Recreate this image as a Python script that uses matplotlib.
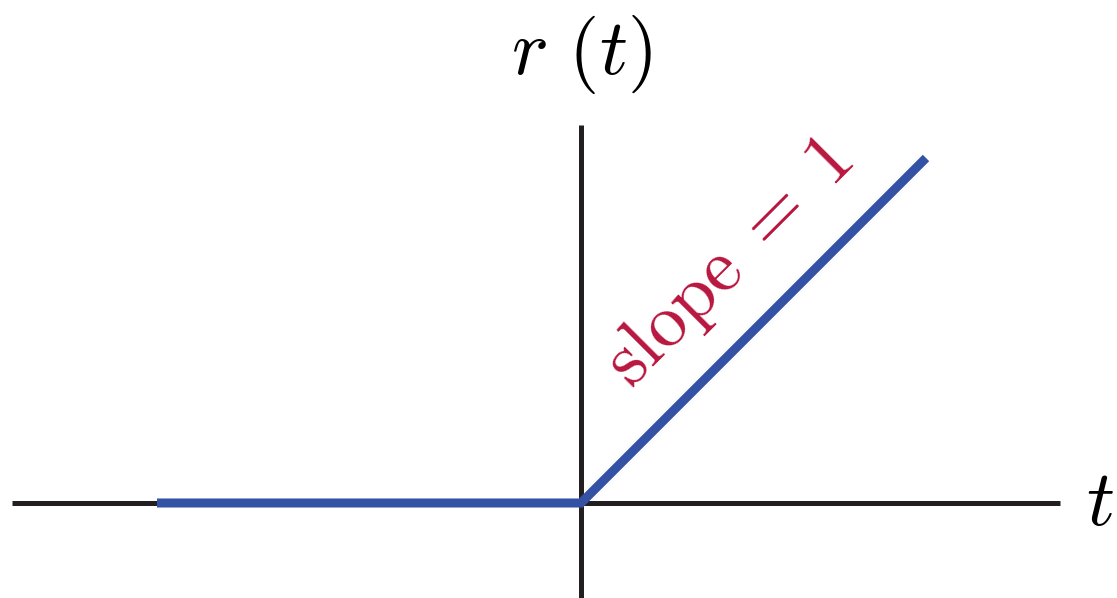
import numpy as np
import matplotlib
matplotlib.use("Agg")
import matplotlib.pyplot as plt

plt.rcParams['mathtext.fontset'] = 'cm'

# ramp r(t) = max(t, 0), sampled at its corners
t_vals = np.array([-4.24, 0.0, 3.45])
r_vals = np.maximum(t_vals, 0.0)

# axis extents (data units)
t_axis = [-5.69, 4.79]
r_axis = [-0.95, 3.78]

black = "#231f20"
blue = "#3452a4"
red = "#b8173f"

fig = plt.figure(figsize=(11.17, 5.98), dpi=100)
ax = fig.add_axes([0, 0, 1, 1])
ax.set_axis_off()
ax.set_xlim(-5.81, 5.36)
ax.set_ylim(-0.95, 5.03)

ax.plot(t_axis, [0, 0], color=black, lw=3.6, solid_capstyle="butt", zorder=1)
ax.plot([0, 0], r_axis, color=black, lw=3.6, solid_capstyle="butt", zorder=1)
ax.plot(t_vals, r_vals, color=blue, lw=6.5, solid_capstyle="butt",
        solid_joinstyle="miter", zorder=2)

ax.text(0, 4.48, r"$r\ (t)$", fontsize=56, ha="center", va="center", color="black")
ax.text(5.19, 0.0, r"$t$", fontsize=56, ha="center", va="center", color="black")
ax.text(1.48, 2.40, r"$\mathrm{slope}\;=\;1$", fontsize=54, color=red,
        rotation=45, rotation_mode="anchor", ha="center", va="center")

plt.savefig("out.png", dpi=100)
